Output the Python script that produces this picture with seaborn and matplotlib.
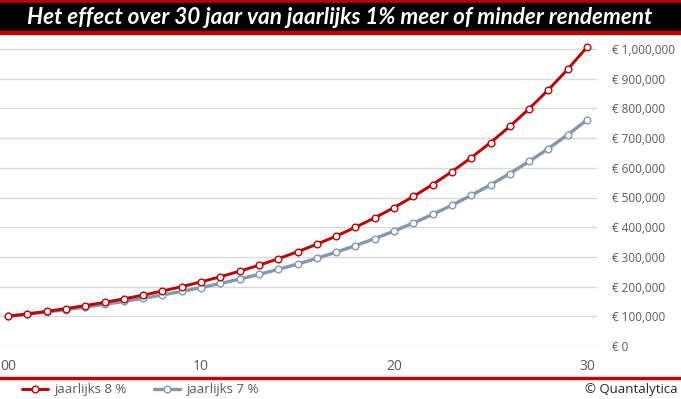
import matplotlib
matplotlib.use("Agg")
import matplotlib.pyplot as plt
import seaborn as sns
import pandas as pd
from matplotlib.patches import Rectangle
from matplotlib.ticker import FuncFormatter

# --- Data ---
years = list(range(0, 31))
rendement_8 = [100000, 108000, 116640, 125970, 136050, 146930, 158690, 171380,
               185090, 199900, 215890, 233160, 251820, 271960, 293720, 317220,
               342590, 370000, 399600, 431570, 466100, 503380, 543650, 587150,
               634120, 684850, 739630, 798810, 862710, 931730, 1006270]
rendement_7 = [100000, 107000, 114490, 122500, 131080, 140260, 150070, 160580,
               171820, 183850, 196720, 210490, 225220, 240980, 257850, 275900,
               295220, 315880, 337990, 361650, 386970, 414060, 443040, 474050,
               507240, 542740, 580730, 621390, 664880, 711430, 761230]
series_names = ["jaarlijks 8 %", "jaarlijks 7 %"]
series_colors = ["#C00000", "#8497B0"]
x_ticks = [0, 10, 20, 30]
x_tick_labels = ["00", "10", "20", "30"]
y_ticks = list(range(0, 1000001, 100000))

TITLE = "Het effect over 30 jaar van jaarlijks 1% meer of minder rendement"

W, H = 681, 399
sns.set_theme(style="white")
plt.rcParams['font.family'] = ['Open Sans', 'DejaVu Sans']

fig = plt.figure(figsize=(W / 100, H / 100), dpi=100)

# axes placed in pixel terms
ax_left, ax_right = 0, 597
ax_top, ax_bottom = 35, 346
ax = fig.add_axes([ax_left / W, (H - ax_bottom) / H,
                   (ax_right - ax_left) / W, (ax_bottom - ax_top) / H])

df = pd.DataFrame({"jaar": years, series_names[0]: rendement_8, series_names[1]: rendement_7})

widths = [2.1, 2.4]
handles = []
for name, color, lw in zip(series_names, series_colors, widths):
    sns.lineplot(data=df, x="jaar", y=name, ax=ax, color=color, linewidth=lw,
                 marker="o", markersize=4.8, markerfacecolor="white",
                 markeredgecolor=color, markeredgewidth=1.0, label=name, legend=False)
    handles.append(ax.lines[-1])

# z-order: red on top
ax.lines[0].set_zorder(4)
ax.lines[1].set_zorder(3)

px_per_x = (587 - 8) / 30
ax.set_xlim(-8 / px_per_x, 30 + 10 / px_per_x)
px_per_y = (346 - 49) / 1000000
ax.set_ylim(0, (ax_bottom - ax_top) / px_per_y)

ax.set_xticks(x_ticks)
ax.set_xticklabels(x_tick_labels)
ax.set_yticks(y_ticks)
ax.yaxis.set_major_formatter(FuncFormatter(lambda v, p: f"€ {v:,.0f}"))
ax.yaxis.tick_right()
ax.tick_params(axis="y", length=0, pad=11, labelsize=8.5, labelcolor="#595959")
ax.tick_params(axis="x", length=0, pad=9, labelsize=10, labelcolor="#595959")
ax.set_xlabel("")
ax.set_ylabel("")
ax.grid(axis="y", color="#D9D9D9", linewidth=1)
ax.set_axisbelow(True)
for s in ax.spines.values():
    s.set_visible(False)

# title bar
def band(y0, y1, color):
    fig.patches.append(Rectangle((0, 1 - y1 / H), 1, (y1 - y0) / H,
                                 transform=fig.transFigure, color=color, zorder=0))

band(0, 3, "#C00000")
band(3, 31, "#000000")
band(31, 34, "#C00000")
fig.text(340 / W, 1 - 17.5 / H, TITLE, ha="center", va="center", color="white",
         fontsize=16.2, fontweight="bold", fontstyle="italic",
         family=["Lato", "DejaVu Sans"])

# red rule above legend
band(377, 379, "#C00000")

leg = fig.legend(handles=handles, labels=series_names, loc="center left",
                 bbox_to_anchor=(22 / W, 1 - 390 / H), ncol=2, frameon=False,
                 fontsize=9.5, handlelength=2.0, columnspacing=2.0,
                 handletextpad=0.5, borderaxespad=0, borderpad=0)
for t in leg.get_texts():
    t.set_color("#595959")

fig.text(678 / W, 1 - 390 / H, "© Quantalytica", ha="right", va="center",
         fontsize=9.5, color="#262626")

fig.savefig("out.png", dpi=100)
